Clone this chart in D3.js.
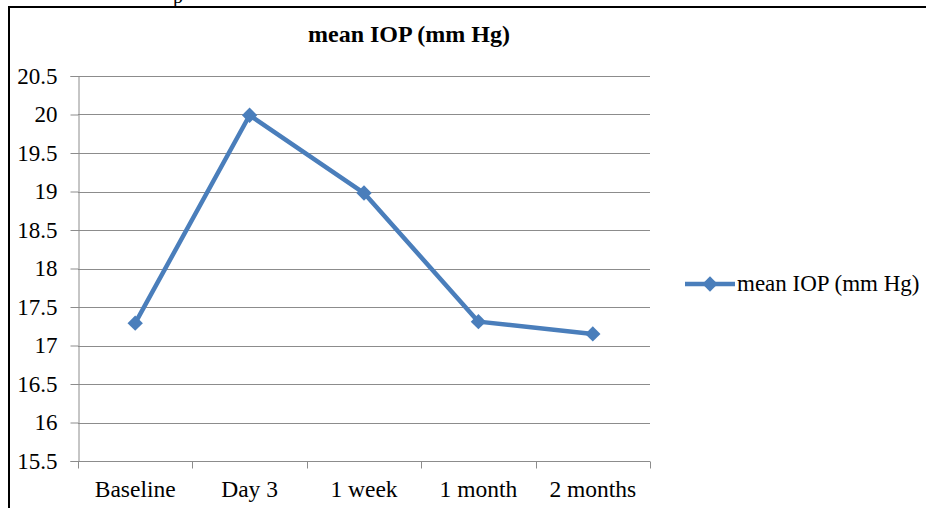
<!DOCTYPE html>
<html>
<head>
<meta charset="utf-8">
<script src="https://d3js.org/d3.v7.min.js"></script>
<style>
  body { margin: 0; background: #fff; }
</style>
</head>
<body>
<div id="chart"></div>
<script>
// data
var categories = ["Baseline", "Day 3", "1 week", "1 month", "2 months"];
var meanIOP = [17.29, 19.99, 18.98, 17.31, 17.15];
var yTicks = [15.5, 16, 16.5, 17, 17.5, 18, 18.5, 19, 19.5, 20, 20.5];
var seriesName = "mean IOP (mm Hg)";

var FONT = "'Liberation Serif', 'Times New Roman', serif";
var W = 926, H = 508;
var margin = {top: 76, right: 276, bottom: 47, left: 78};
var width = W - margin.left - margin.right,
    height = H - margin.top - margin.bottom;

var svg = d3.select("#chart").append("svg")
    .attr("width", W)
    .attr("height", H)
    .style("font-family", FONT);

// outer frame (left + top edges only show in the crop)
svg.append("path")
    .attr("d", "M9,508 V7 H926")
    .attr("fill", "none")
    .attr("stroke", "#000")
    .attr("stroke-width", 2);

// bit of text cut off above the frame
svg.append("text")
    .attr("x", 173).attr("y", 3)
    .style("font-family", FONT)
    .style("font-size", "20px")
    .text("p");

var g = svg.append("g")
    .attr("transform", "translate(" + margin.left + "," + margin.top + ")");

var x = d3.scaleBand().domain(categories).range([0, width]);
var y = d3.scaleLinear().domain([15.5, 20.5]).range([height, 0]);

// gridlines
g.selectAll(".grid").data(yTicks).enter().append("line")
    .attr("x1", 0).attr("x2", width)
    .attr("y1", function(d) { return Math.round(y(d)) + 0.5; })
    .attr("y2", function(d) { return Math.round(y(d)) + 0.5; })
    .attr("stroke", "#8c8c8c")
    .attr("stroke-width", 1.2);

// Y axis
var yAxis = g.append("g")
    .attr("transform", "translate(0.5,0)")
    .call(d3.axisLeft(y).tickValues(yTicks).tickSize(8).tickPadding(13)
        .tickFormat(function(d) { return String(d); }));
yAxis.attr("font-family", null);
yAxis.select(".domain").attr("stroke", "#8c8c8c");
yAxis.selectAll(".tick line").attr("stroke", "#8c8c8c");
yAxis.selectAll("text")
    .style("font-family", FONT)
    .style("font-size", "23px")
    .attr("fill", "#000");

// X axis: ticks at category boundaries
var xAxis = g.append("g")
    .attr("transform", "translate(0," + (Math.round(height) + 0.5) + ")");
xAxis.append("line")
    .attr("x1", 0).attr("x2", width)
    .attr("stroke", "#8c8c8c");
var bounds = categories.map(function(c) { return x(c); }).concat([width]);
xAxis.selectAll(".xt").data(bounds).enter().append("line")
    .attr("x1", function(d) { return Math.round(d) + 0.5; })
    .attr("x2", function(d) { return Math.round(d) + 0.5; })
    .attr("y1", 0).attr("y2", 7)
    .attr("stroke", "#8c8c8c");
xAxis.selectAll(".xl").data(categories).enter().append("text")
    .attr("x", function(d) { return x(d) + x.bandwidth() / 2; })
    .attr("y", 35)
    .attr("text-anchor", "middle")
    .style("font-family", FONT)
    .style("font-size", "23.5px")
    .text(function(d) { return d; });

// line
var line = d3.line()
    .x(function(d, i) { return x(categories[i]) + x.bandwidth() / 2; })
    .y(function(d) { return y(d); });

g.append("path")
    .datum(meanIOP)
    .attr("fill", "none")
    .attr("stroke", "#4a7ebb")
    .attr("stroke-width", 4.5)
    .attr("stroke-linejoin", "round")
    .attr("d", line);

var diamond = d3.symbol().type(d3.symbolDiamond2).size(150);
g.selectAll(".pt").data(meanIOP).enter().append("path")
    .attr("transform", function(d, i) {
        return "translate(" + (x(categories[i]) + x.bandwidth() / 2) + "," + y(d) + ")";
    })
    .attr("d", diamond)
    .attr("fill", "#4a7ebb");

// title
svg.append("text")
    .attr("x", 409).attr("y", 42)
    .attr("text-anchor", "middle")
    .style("font-family", FONT)
    .style("font-size", "24px")
    .style("font-weight", "bold")
    .text(seriesName);

// legend
var lg = svg.append("g").attr("transform", "translate(685,284)");
lg.append("line")
    .attr("x1", 0).attr("x2", 50)
    .attr("stroke", "#4a7ebb")
    .attr("stroke-width", 4.5);
lg.append("path")
    .attr("transform", "translate(25,0)")
    .attr("d", diamond)
    .attr("fill", "#4a7ebb");
lg.append("text")
    .attr("x", 52).attr("y", 7)
    .style("font-family", FONT)
    .style("font-size", "23px")
    .text(seriesName);
</script>
</body>
</html>
